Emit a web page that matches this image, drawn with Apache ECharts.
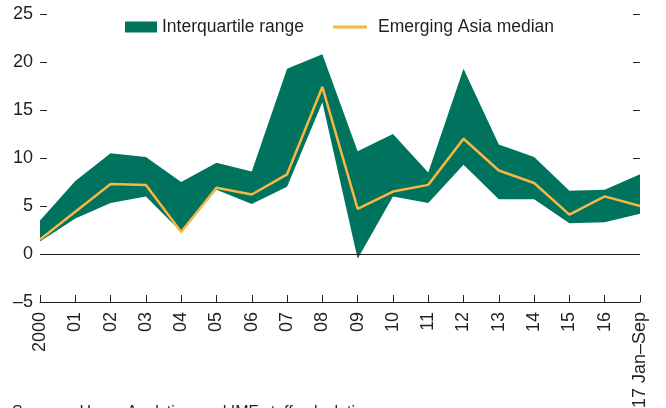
<!DOCTYPE html>
<html>
<head>
<meta charset="utf-8">
<script src="https://cdn.jsdelivr.net/npm/echarts@6/dist/echarts.min.js"></script>
<style>
  html, body { margin: 0; padding: 0; background: #fff; }
  #chart { width: 666px; height: 408px; }
</style>
</head>
<body>
<div id="chart"></div>
<script>
// categories (years)
var years = ["2000", "01", "02", "03", "04", "05", "06", "07", "08", "09",
  "10", "11", "12", "13", "14", "15", "16", "17 Jan–Sep"];
// 25th percentile
var lower = [1.3, 3.7, 5.3, 6.0, 2.3, 6.7, 5.2, 7.0, 15.8, -0.5,
  6.0, 5.3, 9.3, 5.7, 5.7, 3.2, 3.3, 4.2];
// 75th percentile
var upper = [3.5, 7.6, 10.5, 10.1, 7.5, 9.5, 8.6, 19.3, 20.8, 10.7,
  12.5, 8.5, 19.3, 11.4, 10.1, 6.6, 6.7, 8.3];
// Emerging Asia median
var median = [1.5, 4.4, 7.3, 7.2, 2.3, 6.9, 6.2, 8.3, 17.4, 4.7,
  6.5, 7.2, 12.0, 8.7, 7.4, 4.1, 6.0, 5.0];

var font = "'Liberation Sans Narrow', 'Arial Narrow', sans-serif";
var ink = "#231f20";
var green = "#00735f";
var orange = "#f9b642";

// band height on top of the lower bound
var spread = [];
for (var i = 0; i < upper.length; i++) {
  spread.push(+(upper[i] - lower[i]).toFixed(2));
}

var chart = echarts.init(document.getElementById("chart"));
var option = {
  animation: false,
  grid: { left: 40, right: 26, top: 14, bottom: 106, outerBoundsMode: "none" },
  legend: [
    {
      top: 18,
      left: 125,
      padding: 0,
      itemWidth: 32,
      itemHeight: 11,
      textStyle: { fontFamily: font, fontSize: 17.5, color: ink },
      data: [{ name: "Interquartile range", icon: "rect" }]
    },
    {
      top: 18,
      left: 333,
      padding: 0,
      itemWidth: 34,
      itemHeight: 11,
      textStyle: { fontFamily: font, fontSize: 17.5, color: ink, padding: [0, 0, 0, 6] },
      data: [{ name: "Emerging Asia median", icon: "path://M0,0H34V3H0Z", itemStyle: { color: orange } }]
    }
  ],
  xAxis: {
    type: "category",
    data: years,
    boundaryGap: false,
    axisLine: { show: true, onZero: false, lineStyle: { color: ink, width: 1 } },
    axisTick: { show: true, inside: true, length: 7, alignWithLabel: true, lineStyle: { color: ink } },
    axisLabel: {
      rotate: 90, margin: 10, interval: 0,
      fontFamily: font, fontSize: 18, color: ink
    },
    splitLine: { show: false }
  },
  yAxis: [
    {
      type: "value", min: -5, max: 25, interval: 5,
      axisLine: { show: false },
      axisTick: { show: true, inside: true, length: 7, lineStyle: { color: ink } },
      axisLabel: {
        margin: 7, fontFamily: font, fontSize: 18, color: ink,
        formatter: function (v) { return v < 0 ? "–" + Math.abs(v) : v; }
      },
      splitLine: { show: false }
    },
    {
      type: "value", min: -5, max: 25, interval: 5, position: "right",
      axisLine: { show: false },
      axisTick: { show: true, inside: true, length: 7, lineStyle: { color: ink } },
      axisLabel: { show: false },
      splitLine: { show: false }
    }
  ],
  series: [
    {
      name: "lower",
      type: "line",
      data: lower,
      stack: "band",
      stackStrategy: "all",
      symbol: "none",
      lineStyle: { opacity: 0 },
      silent: true,
      z: 1
    },
    {
      name: "Interquartile range",
      type: "line",
      data: spread,
      stack: "band",
      stackStrategy: "all",
      symbol: "none",
      itemStyle: { color: green },
      lineStyle: { opacity: 0 },
      areaStyle: { color: green, opacity: 1 },
      z: 2
    },
    {
      name: "zero",
      type: "line",
      data: [],
      markLine: {
        silent: true,
        symbol: "none",
        label: { show: false },
        lineStyle: { color: ink, type: "solid", width: 1.2 },
        data: [{ yAxis: 0 }]
      },
      z: 3
    },
    {
      name: "Emerging Asia median",
      type: "line",
      data: median,
      symbol: "none",
      itemStyle: { color: orange },
      lineStyle: { color: orange, width: 2.5 },
      z: 4
    }
  ],
  graphic: [
    {
      type: "text",
      left: 12,
      top: 405,
      style: {
        text: "Sources: Haver Analytics; and IMF staff calculations.",
        font: "16px " + font,
        fill: ink
      }
    }
  ]
};
chart.setOption(option);
</script>
</body>
</html>
